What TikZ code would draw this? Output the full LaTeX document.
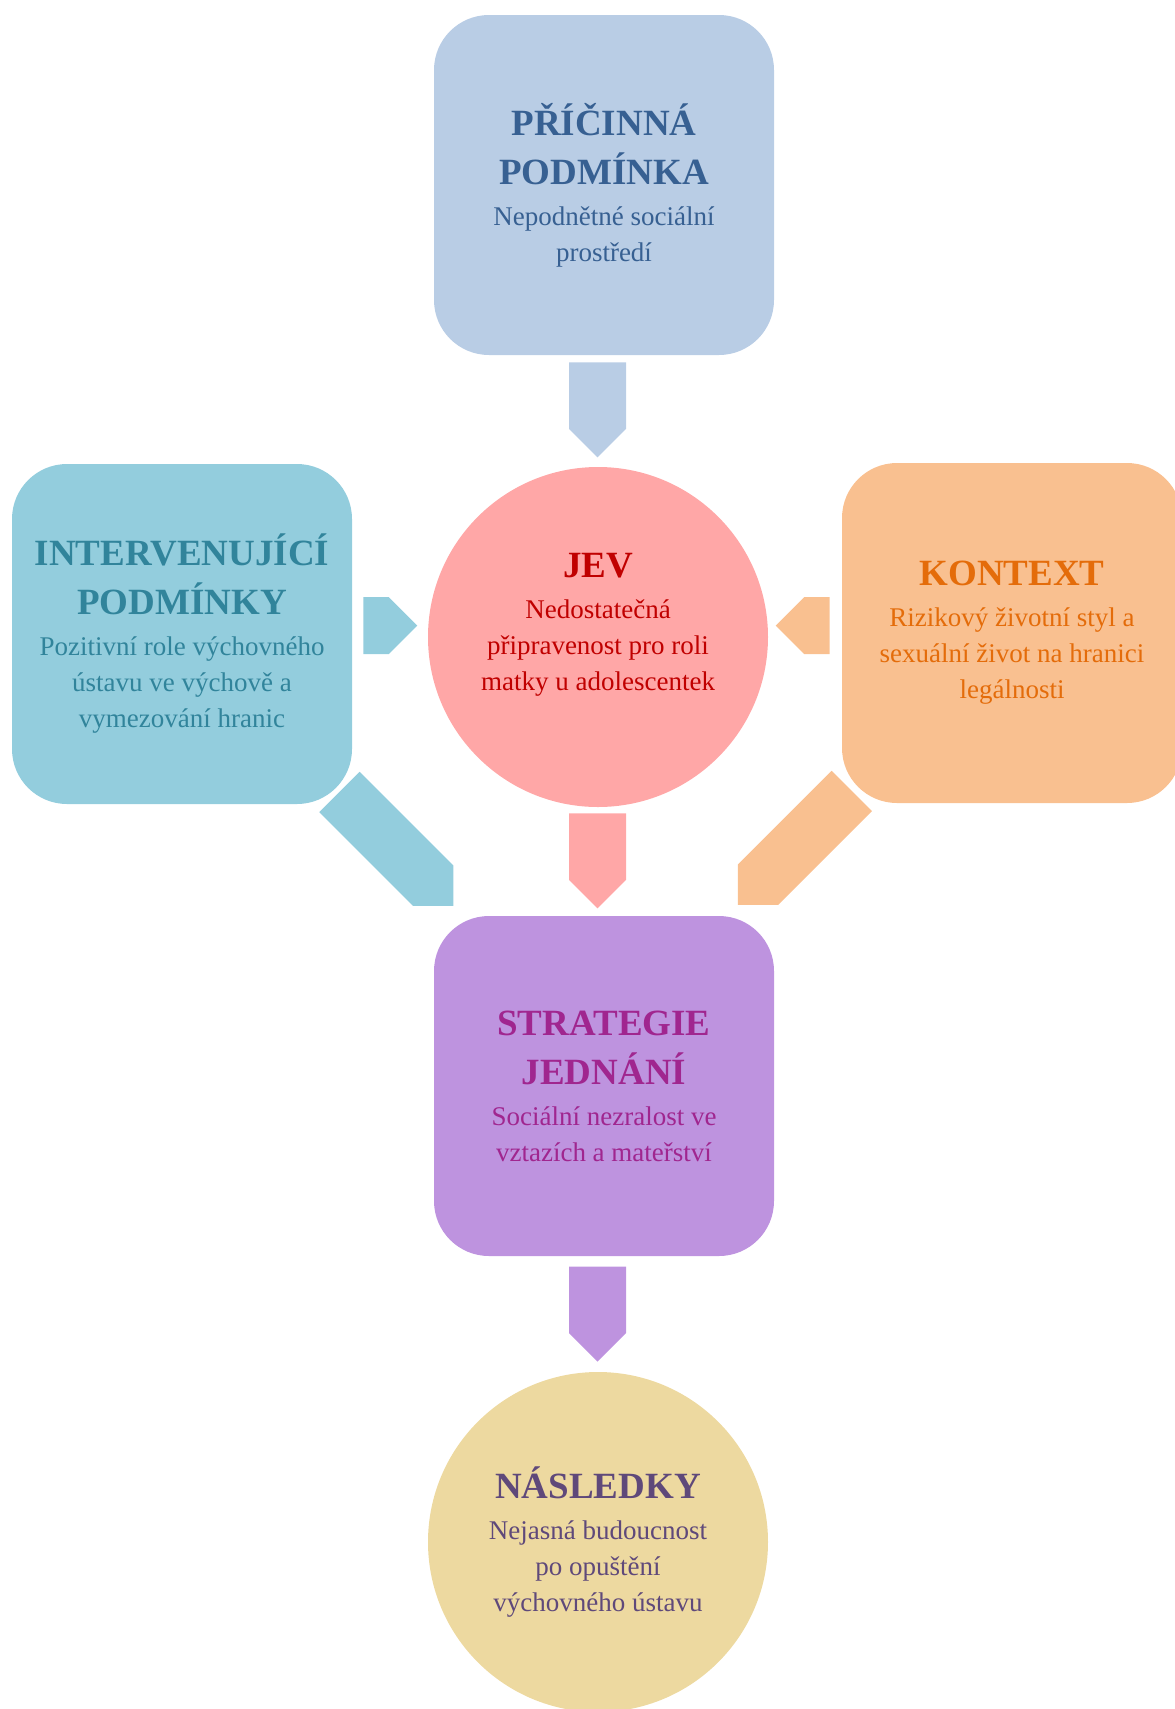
\documentclass[tikz,border=0pt]{standalone}
\usepackage{fontspec}
\setmainfont{Liberation Serif}
\usetikzlibrary{shapes.arrows}

\definecolor{pricinafill}{HTML}{B9CDE5}
\definecolor{pricinatext}{HTML}{376092}
\definecolor{intervfill}{HTML}{93CDDD}
\definecolor{intervtext}{HTML}{31849B}
\definecolor{kontextfill}{HTML}{F9C090}
\definecolor{kontexttext}{HTML}{E46C0A}
\definecolor{jevfill}{HTML}{FFA7A7}
\definecolor{jevtext}{HTML}{C00000}
\definecolor{strategiefill}{HTML}{BE93DF}
\definecolor{strategietext}{HTML}{A0268F}
\definecolor{nasledkyfill}{HTML}{EDD9A0}
\definecolor{nasledkytext}{HTML}{5F497A}

\newcommand{\nadpis}[1]{{\fontsize{37}{44}\selectfont\bfseries #1}}

\begin{document}
\begin{tikzpicture}[x=1pt, y=-1pt,
    every node/.style={font=\fontsize{27}{36}\selectfont, align=center, inner sep=0pt},
    box/.style={rectangle, rounded corners=55pt, minimum width=340pt, minimum height=340pt},
    kruh/.style={circle, minimum size=340pt},
    sipka/.style={single arrow, single arrow head extend=0pt, single arrow tip angle=90,
                  minimum width=57pt, anchor=tip}]
    \useasboundingbox (0,0) rectangle (1175,1709);

    % hlavni bloky
    \node (pricina)   [box, fill=pricinafill, text=pricinatext] at (604,185)
        {\nadpis{PŘÍČINNÁ}\\[13pt]\nadpis{PODMÍNKA}\\[5pt]Nepodnětné sociální\\prostředí};
    \node (interv)    [box, fill=intervfill, text=intervtext] at (182,634)
        {\nadpis{INTERVENUJÍCÍ}\\[13pt]\nadpis{PODMÍNKY}\\[5pt]Pozitivní role výchovného\\ústavu ve výchově a\\vymezování hranic};
    \node (kontext)   [box, fill=kontextfill, text=kontexttext] at (1012,633)
        {\nadpis{KONTEXT}\\[5pt]Rizikový životní styl a\\sexuální život na hranici\\legálnosti};
    \node (jev)       [kruh, fill=jevfill, text=jevtext, text depth=30pt] at (598,637)
        {\nadpis{JEV}\\[5pt]Nedostatečná\\připravenost pro roli\\matky u adolescentek};
    \node (strategie) [box, fill=strategiefill, text=strategietext] at (604,1086)
        {\nadpis{STRATEGIE}\\[13pt]\nadpis{JEDNÁNÍ}\\[5pt]Sociální nezralost ve\\vztazích a mateřství};
    \node (nasledky)  [kruh, fill=nasledkyfill, text=nasledkytext] at (598,1542)
        {\nadpis{NÁSLEDKY}\\[5pt]Nejasná budoucnost\\po opuštění\\výchovného ústavu};

    % sipky
    \node (pricjev)   [sipka, fill=pricinafill, minimum height=95pt, rotate=-90] at (597.5,457.6) {};
    \node (intjev)    [sipka, fill=intervfill, minimum height=54pt] at (417.6,625.6) {};
    \node (kontjev)   [sipka, fill=kontextfill, minimum height=54pt, rotate=180] at (775.4,625.6) {};
    \node (jevstrat)  [sipka, fill=jevfill, minimum height=95pt, rotate=-90] at (597.5,908.6) {};
    \node (intstrat)  [sipka, fill=intervfill, minimum height=161pt, rotate=-45] at (453.5,906) {};
    \node (kontstrat) [sipka, fill=kontextfill, minimum height=161pt, rotate=-135] at (737.7,905) {};
    \node (stratnasl) [sipka, fill=strategiefill, minimum height=95pt, rotate=-90] at (597.5,1362) {};
\end{tikzpicture}
\end{document}
